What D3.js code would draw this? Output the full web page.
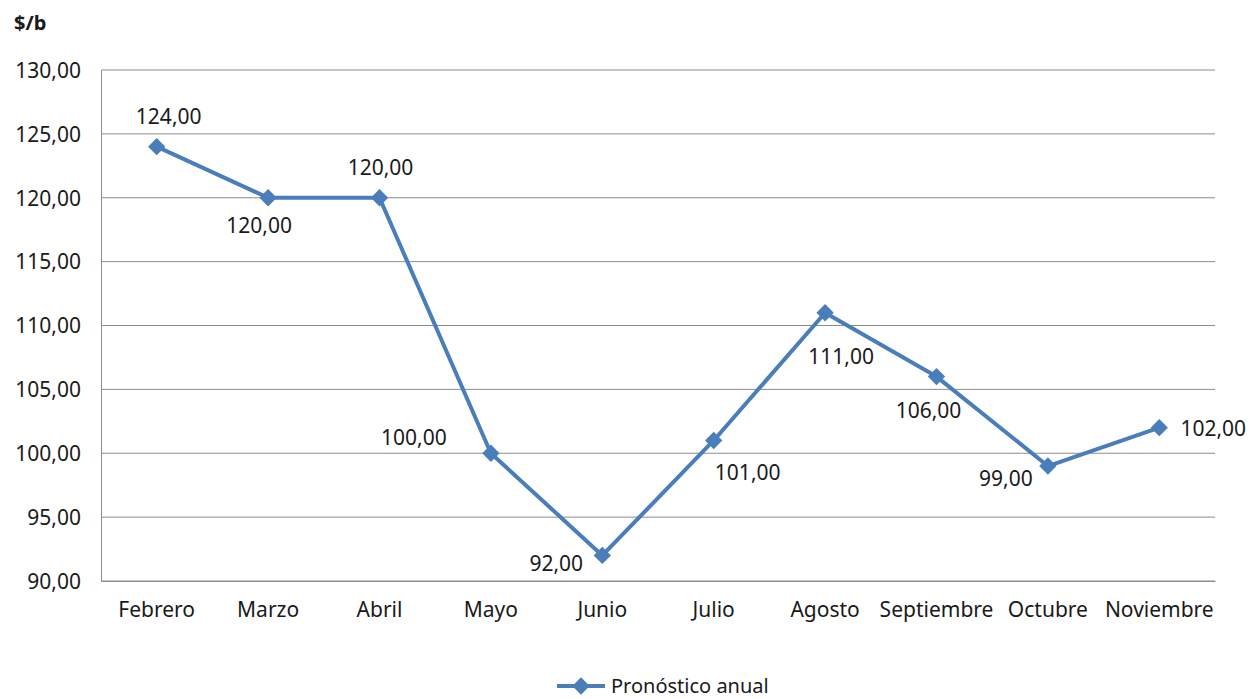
<!DOCTYPE html>
<html>
<head>
<meta charset="utf-8">
<script src="https://cdn.jsdelivr.net/npm/d3@7"></script>
<style>
  body { margin: 0; background: #fff; }
  text { font-family: "Noto Sans", "Open Sans", sans-serif; fill: #1a1a1a; }
</style>
</head>
<body>
<div id="chart"></div>
<script>
// data
const months = ["Febrero", "Marzo", "Abril", "Mayo", "Junio", "Julio", "Agosto", "Septiembre", "Octubre", "Noviembre"];
const forecast = [124, 120, 120, 100, 92, 101, 111, 106, 99, 102];
const yTicks = [90, 95, 100, 105, 110, 115, 120, 125, 130];
const seriesName = "Pronóstico anual";
const unitLabel = "$/b";

// where each data label sits relative to its point (dx, dy)
const labelOffsets = [[12, -30], [-9, 28], [1, -30], [-77, -16], [-46, 8],
  [34, 32], [16, 44], [-8, 34], [-42, 13], [54, 1]];

const blue = "#4a7ebb";
const W = 1253, H = 699;
const margin = { left: 101, right: 38, top: 70, bottom: 118 };

const fmt = d3.formatLocale({ decimal: ",", thousands: ".", grouping: [3], currency: ["", "$"] }).format(".2f");

const svg = d3.select("#chart").append("svg")
  .attr("width", W)
  .attr("height", H);

const x = d3.scaleBand()
  .domain(months)
  .range([margin.left, W - margin.right]);

const y = d3.scaleLinear()
  .domain([90, 130])
  .range([H - margin.bottom, margin.top]);

// horizontal gridlines
svg.append("g")
  .selectAll("line")
  .data(yTicks)
  .enter().append("line")
  .attr("x1", margin.left)
  .attr("x2", W - margin.right)
  .attr("y1", d => y(d))
  .attr("y2", d => y(d))
  .attr("stroke", "#8c8c8c")
  .attr("stroke-width", 1);

// y axis
const yAxis = svg.append("g")
  .attr("transform", "translate(" + margin.left + ",0)")
  .call(d3.axisLeft(y).tickValues(yTicks).tickFormat(fmt).tickSize(0).tickPadding(20));
yAxis.select(".domain").attr("stroke", "#8c8c8c");
yAxis.selectAll("text")
  .style("font-size", "21px")
  .attr("dy", "0.35em");

// x axis
const xAxis = svg.append("g")
  .attr("transform", "translate(0," + y(90) + ")")
  .call(d3.axisBottom(x).tickSize(0).tickPadding(21));
xAxis.select(".domain").attr("stroke", "#8c8c8c");
xAxis.selectAll("text").style("font-size", "21px");

// unit label
svg.append("text")
  .attr("x", 14)
  .attr("y", 30)
  .style("font-size", "20px")
  .style("font-weight", "bold")
  .text(unitLabel);

const cx = (d, i) => x(months[i]) + x.bandwidth() / 2;

// series line
const line = d3.line()
  .x((d, i) => cx(d, i))
  .y(d => y(d));

svg.append("path")
  .datum(forecast)
  .attr("d", line)
  .attr("fill", "none")
  .attr("stroke", blue)
  .attr("stroke-width", 4)
  .attr("stroke-linejoin", "round");

// diamond markers
const diamond = d3.symbol().type(d3.symbolSquare).size(150);
svg.append("g")
  .selectAll("path")
  .data(forecast)
  .enter().append("path")
  .attr("d", diamond)
  .attr("transform", (d, i) => "translate(" + cx(d, i) + "," + y(d) + ") rotate(45)")
  .attr("fill", blue);

// data labels
svg.append("g")
  .selectAll("text")
  .data(forecast)
  .enter().append("text")
  .attr("x", (d, i) => cx(d, i) + labelOffsets[i][0])
  .attr("y", (d, i) => y(d) + labelOffsets[i][1])
  .attr("dy", "0.35em")
  .attr("text-anchor", "middle")
  .style("font-size", "21px")
  .text(d => fmt(d));

// legend
const legend = svg.append("g").attr("transform", "translate(557,686)");
legend.append("line")
  .attr("x1", 0).attr("x2", 48)
  .attr("stroke", blue)
  .attr("stroke-width", 4);
legend.append("path")
  .attr("d", diamond)
  .attr("transform", "translate(24,0) rotate(45)")
  .attr("fill", blue);
legend.append("text")
  .attr("x", 54)
  .attr("dy", "0.35em")
  .style("font-size", "20px")
  .text(seriesName);
</script>
</body>
</html>
